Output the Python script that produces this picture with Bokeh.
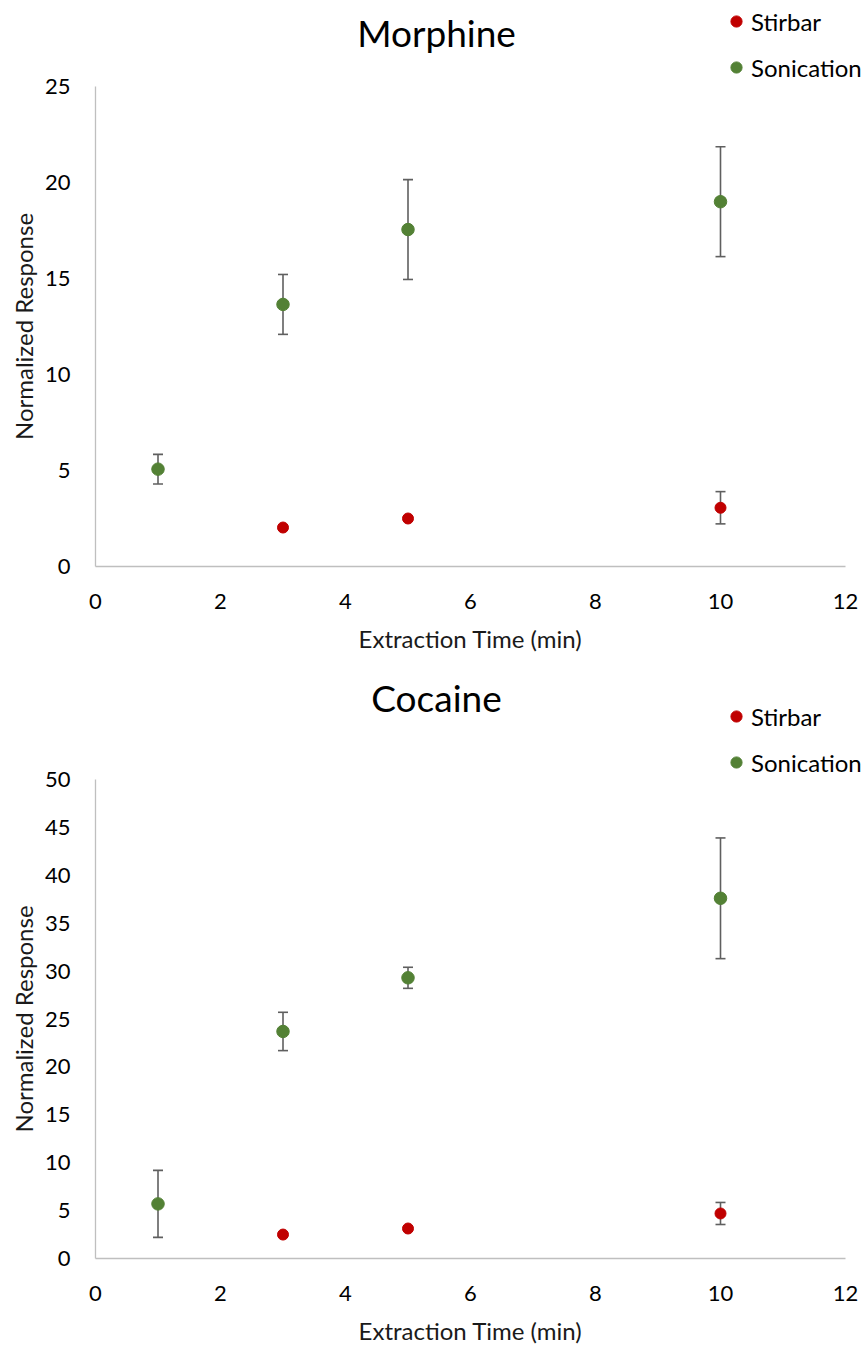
from bokeh.plotting import figure
from bokeh.models import (ColumnDataSource, Whisker, TeeHead, Legend, LegendItem,
                          Label, Range1d, FixedTicker)
from bokeh.layouts import column
from bokeh.embed import file_html
from bokeh.resources import INLINE

# Extraction times (min)
times_stirbar = [3, 5, 10]
times_sonication = [1, 3, 5, 10]

# Morphine: normalized response and standard deviation
morphine_stirbar = [2.03, 2.5, 3.06]
morphine_stirbar_err = [0.0, 0.0, 0.84]
morphine_sonication = [5.07, 13.65, 17.55, 19.0]
morphine_sonication_err = [0.77, 1.56, 2.6, 2.86]

# Cocaine: normalized response and standard deviation
cocaine_stirbar = [2.5, 3.13, 4.7]
cocaine_stirbar_err = [0.0, 0.0, 1.15]
cocaine_sonication = [5.7, 23.7, 29.3, 37.6]
cocaine_sonication_err = [3.5, 2.0, 1.1, 6.3]

x_ticks = [0, 2, 4, 6, 8, 10, 12]
morphine_y_ticks = [0, 5, 10, 15, 20, 25]
cocaine_y_ticks = [0, 5, 10, 15, 20, 25, 30, 35, 40, 45, 50]

FONT = "Lato"
RED = "#C00000"
GREEN = "#538135"
ERR = "#5F5F5F"
AXIS = "#BFBFBF"
WIDTH = 866


def padded_range(lo, hi, lo_px, hi_px, total_px):
    """Range whose [lo, hi] occupies pixels [lo_px, hi_px] of a total_px span."""
    scale = (hi_px - lo_px) / (hi - lo)
    return Range1d(lo - lo_px / scale, hi + (total_px - hi_px) / scale)


def make_panel(title, stir, stir_err, soni, soni_err, y_ticks, height,
               axis_top, axis_bottom, title_y, legend_bottom):
    y_max = y_ticks[-1]
    p = figure(width=WIDTH, height=height, output_backend="svg", toolbar_location=None,
               x_range=padded_range(0, 12, 95, 845, WIDTH),
               y_range=padded_range(0, y_max, height - axis_bottom, height - axis_top, height),
               min_border=0)
    p.outline_line_color = None
    p.grid.visible = False
    p.background_fill_color = "white"
    p.border_fill_color = "white"

    xa, ya = p.xaxis[0], p.yaxis[0]
    xa.fixed_location = 0
    ya.fixed_location = 0
    xa.bounds = (0, 12)
    ya.bounds = (0, y_max)
    for ax in (xa, ya):
        ax.axis_line_color = AXIS
        ax.axis_line_width = 1.3
        ax.major_tick_line_color = None
        ax.minor_tick_line_color = None
        ax.major_label_text_font = FONT
        ax.major_label_text_font_size = "22px"
        ax.major_label_text_color = "black"
        ax.axis_label_text_font = FONT
        ax.axis_label_text_font_size = "24px"
        ax.axis_label_text_font_style = "normal"
        ax.axis_label_text_color = "#1a1a1a"

    xa.ticker = FixedTicker(ticks=x_ticks)
    ya.ticker = FixedTicker(ticks=y_ticks)
    xa.axis_label = "Extraction Time (min)"
    ya.axis_label = "Normalized Response"
    xa.major_label_standoff = 21
    xa.axis_label_standoff = 12
    ya.major_label_standoff = 19
    ya.axis_label_standoff = 4

    p.add_layout(Label(x=436, y=height - title_y, x_units="screen", y_units="screen",
                       text=title, text_align="center", text_baseline="middle",
                       text_font=FONT, text_font_size="37px", text_color="black"))

    src_s = ColumnDataSource(dict(
        x=times_stirbar, y=stir,
        lo=[v - e for v, e in zip(stir, stir_err)],
        hi=[v + e for v, e in zip(stir, stir_err)]))
    src_g = ColumnDataSource(dict(
        x=times_sonication, y=soni,
        lo=[v - e for v, e in zip(soni, soni_err)],
        hi=[v + e for v, e in zip(soni, soni_err)]))

    for src in (src_s, src_g):
        w = Whisker(base="x", lower="lo", upper="hi", source=src,
                    line_color=ERR, line_width=1.6, level="underlay",
                    upper_head=TeeHead(size=10, line_color=ERR, line_width=1.6),
                    lower_head=TeeHead(size=10, line_color=ERR, line_width=1.6))
        p.add_layout(w)

    r_s = p.scatter("x", "y", source=src_s, size=11, fill_color=RED, line_color=RED)
    r_g = p.scatter("x", "y", source=src_g, size=12.5, fill_color=GREEN, line_color=GREEN)

    legend = Legend(items=[LegendItem(label="Stirbar", renderers=[r_s]),
                           LegendItem(label="Sonication", renderers=[r_g])],
                    location=(722, height - legend_bottom), orientation="vertical",
                    glyph_width=28, glyph_height=30, label_height=30,
                    spacing=16, padding=0, margin=0, label_standoff=1,
                    label_text_font=FONT, label_text_font_size="24px",
                    label_text_color="black",
                    border_line_color=None, background_fill_alpha=0)
    p.add_layout(legend, "center")
    return p


p1 = make_panel("Morphine", morphine_stirbar, morphine_stirbar_err,
                morphine_sonication, morphine_sonication_err, morphine_y_ticks,
                height=660, axis_top=86, axis_bottom=566, title_y=32, legend_bottom=82)
p2 = make_panel("Cocaine", cocaine_stirbar, cocaine_stirbar_err,
                cocaine_sonication, cocaine_sonication_err, cocaine_y_ticks,
                height=687, axis_top=119, axis_bottom=598, title_y=37, legend_bottom=117)

layout = column(p1, p2, spacing=0)
open("out.html", "w").write(file_html(layout, INLINE))
